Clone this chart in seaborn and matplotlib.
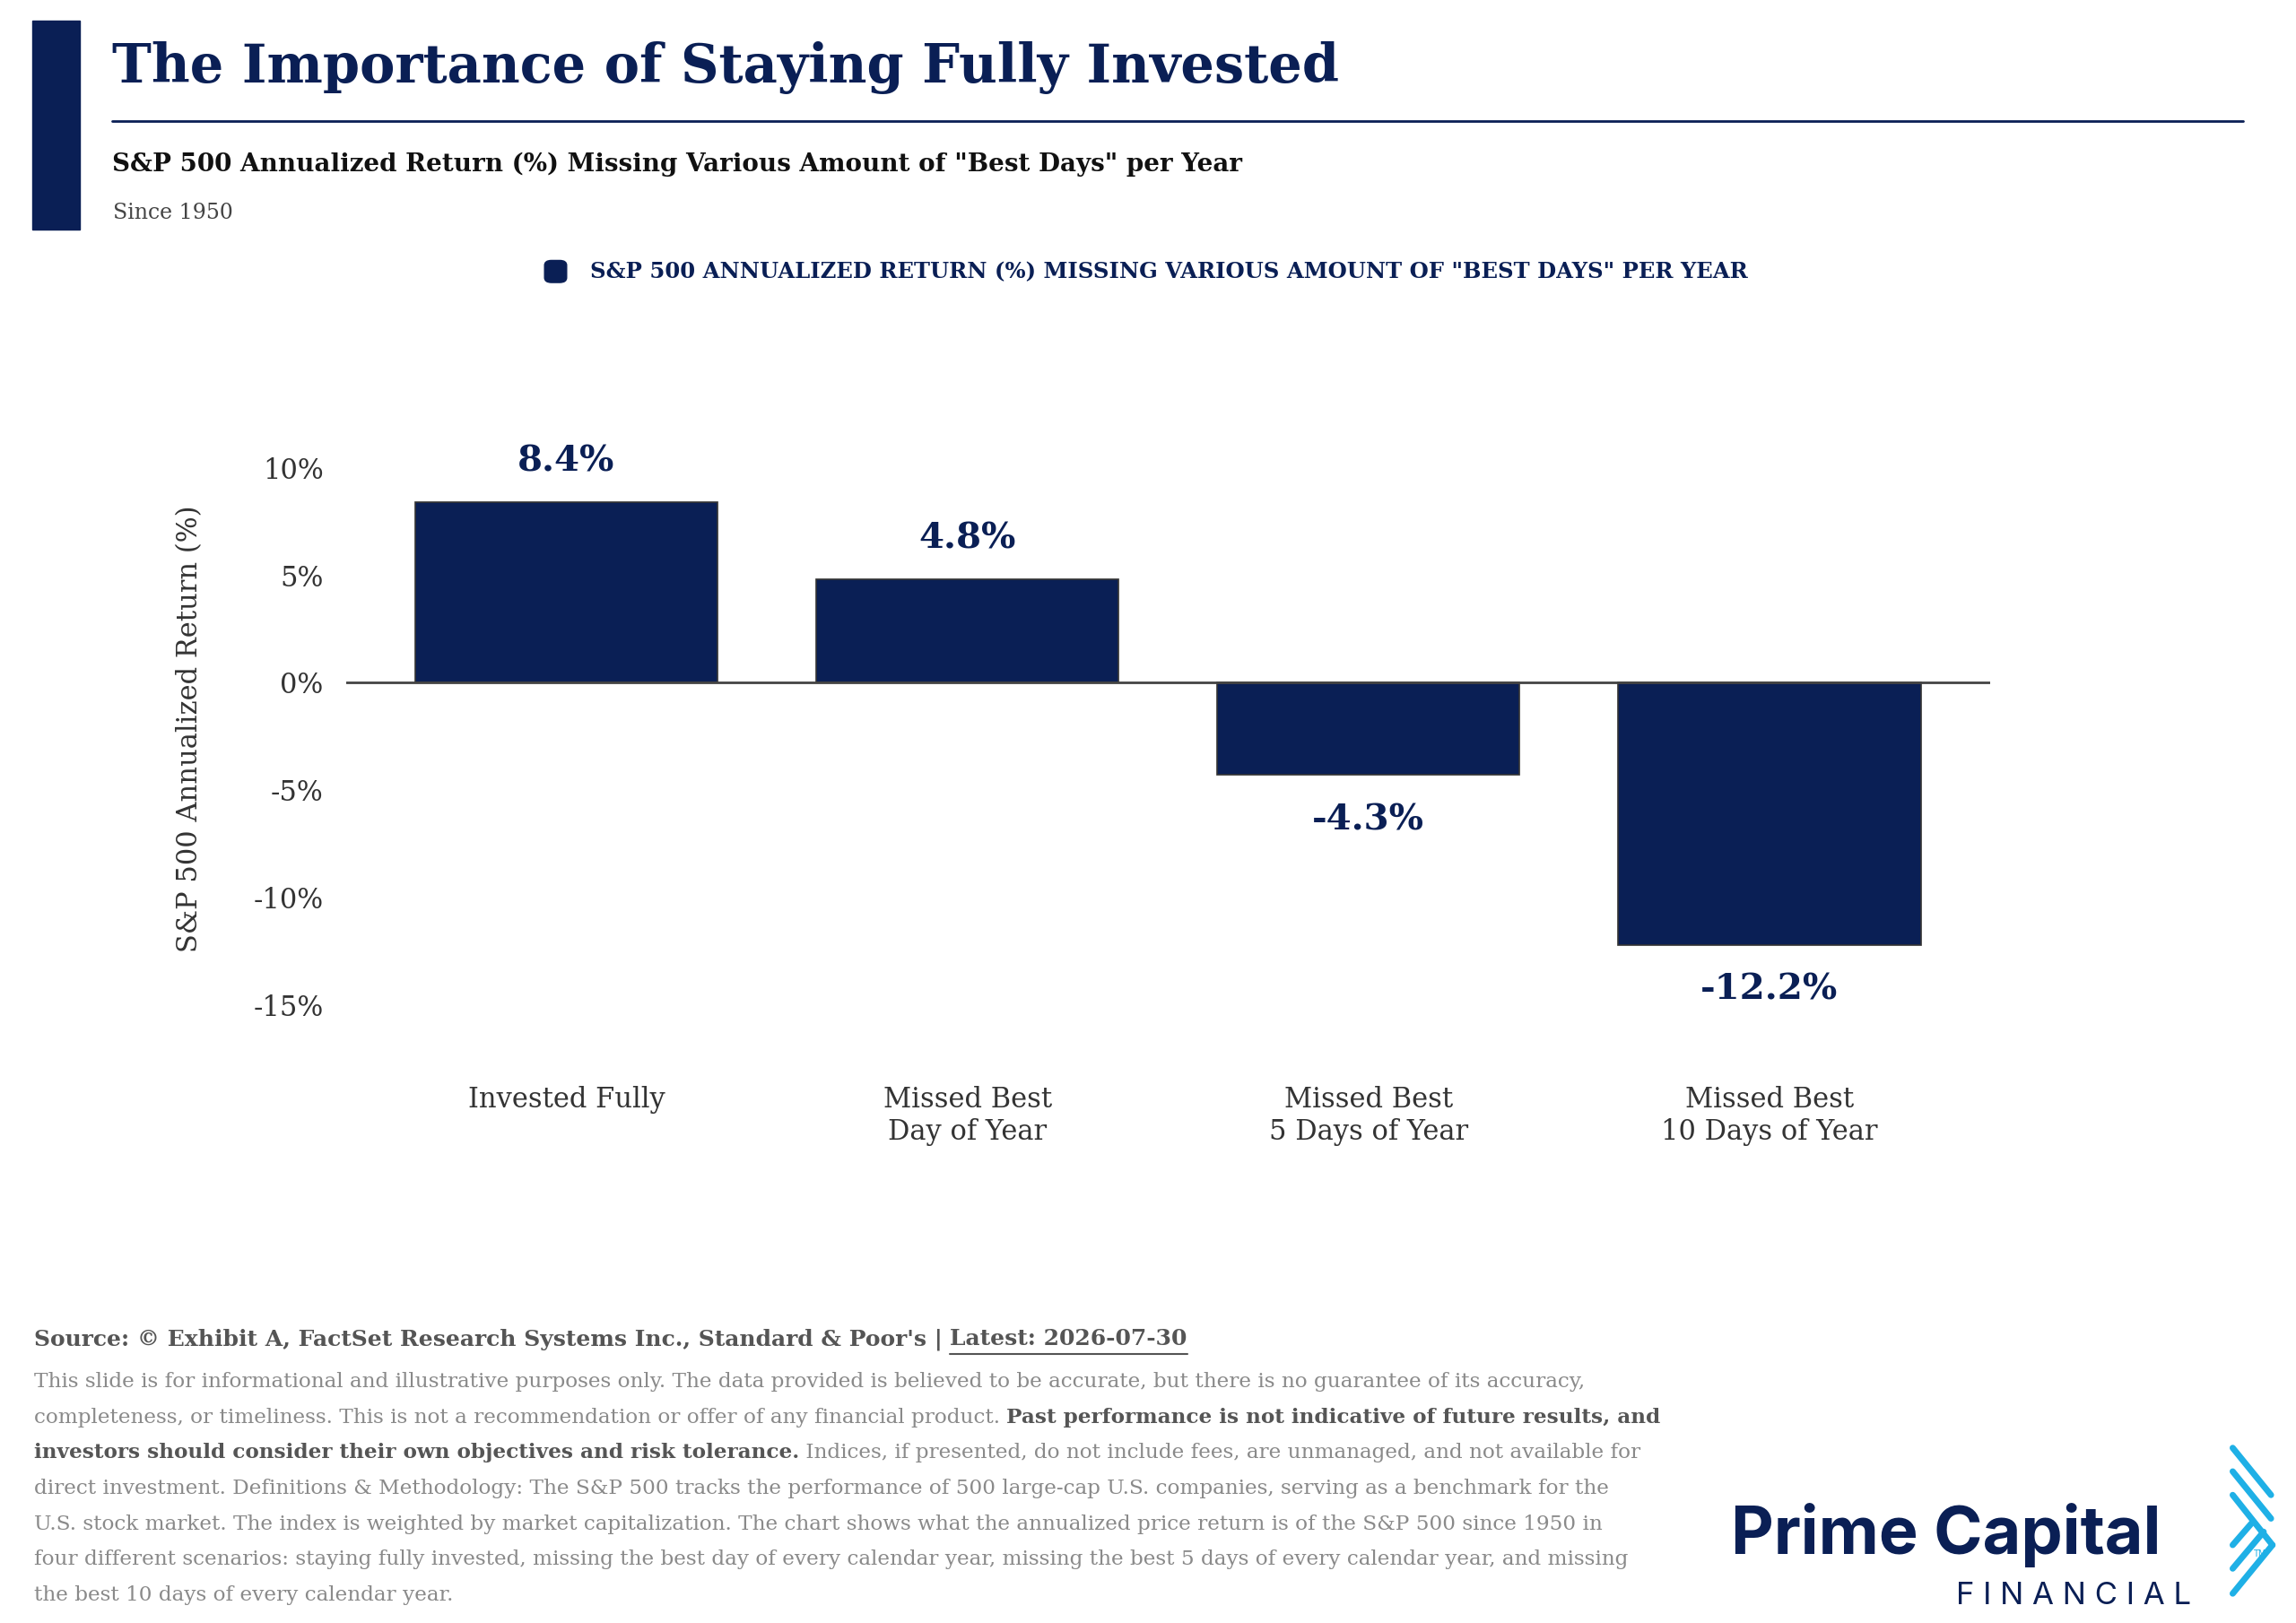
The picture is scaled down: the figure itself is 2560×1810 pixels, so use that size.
import matplotlib
matplotlib.use("Agg")
import matplotlib.pyplot as plt
from matplotlib.patches import Rectangle, FancyBboxPatch
from matplotlib.lines import Line2D
import seaborn as sns

categories = ["Invested Fully", "Missed Best\nDay of Year", "Missed Best\n5 Days of Year", "Missed Best\n10 Days of Year"]
returns = [8.4, 4.8, -4.3, -12.2]
yticks = [10, 5, 0, -5, -10, -15]

NAVY = "#0a1f55"
W, H = 1560, 1103  # layout units (reference display px)

sns.set_theme(style="white")
plt.rcParams["font.family"] = ["DejaVu Serif"]

fig = plt.figure(figsize=(25.6, 18.1), dpi=100)

def fx(x): return x / W
def fy(y): return 1 - y / H

# header
fig.patches.append(Rectangle((fx(22), fy(156)), fx(32), (156 - 14) / H, transform=fig.transFigure, color=NAVY))
fig.text(fx(76), fy(46), "The Importance of Staying Fully Invested", fontsize=42.5, fontweight="bold", color=NAVY, va="center")
fig.add_artist(Line2D([fx(76), fx(1524)], [fy(82), fy(82)], transform=fig.transFigure, color=NAVY, lw=2))
fig.text(fx(76), fy(112), 'S&P 500 Annualized Return (%) Missing Various Amount of "Best Days" per Year',
         fontsize=20, fontweight="bold", color="#111111", va="center")
fig.text(fx(77), fy(145), "Since 1950", fontsize=17, color="#444444", va="center")

# legend
fig.patches.append(FancyBboxPatch((fx(370), fy(192)), fx(15), 15 / H, boxstyle="round,pad=0,rounding_size=0.003",
                                  transform=fig.transFigure, color=NAVY))
fig.text(fx(401), fy(185), 'S&P 500 ANNUALIZED RETURN (%) MISSING VARIOUS AMOUNT OF "BEST DAYS" PER YEAR',
         fontsize=17.5, fontweight="bold", color=NAVY, va="center")

# chart
ax = fig.add_axes([fx(235), fy(710), fx(1117), 430 / H])
sns.barplot(x=categories, y=returns, color=NAVY, saturation=1, width=0.755, ax=ax,
            edgecolor="#333333", linewidth=1.2)
ax.axhline(0, color="#444444", lw=2)
ax.set_xlim(-0.55, 3.55)
ax.set_ylim(-16.85, 12.6)
ax.set_yticks(yticks)
ax.set_yticklabels([f"{v}%" for v in yticks], fontsize=22, color="#333333")
ax.tick_params(axis="x", labelsize=22, colors="#333333", pad=33, length=0)
ax.tick_params(axis="y", length=0, pad=18)
ax.set_ylabel("S&P 500 Annualized Return (%)", fontsize=22, color="#333333", labelpad=40)
ax.set_xlabel("")
for s in ax.spines.values():
    s.set_visible(False)
for i, v in enumerate(returns):
    off = 1.9 if v > 0 else -2.1
    ax.text(i, v + off, f"{v}%", ha="center", va="center", fontsize=29, fontweight="bold", color=NAVY)

# footer
fig.canvas.draw()
r = fig.canvas.get_renderer()
src = fig.text(fx(23), fy(910), "Source: © Exhibit A, FactSet Research Systems Inc., Standard & Poor's | ",
               fontsize=18, fontweight="bold", color="#555555", va="center")
x0 = fx(23) + src.get_window_extent(renderer=r).width / fig.bbox.width
lt = fig.text(x0, fy(910), "Latest: 2026-07-30", fontsize=18, fontweight="bold", color="#555555", va="center")
x1 = x0 + lt.get_window_extent(renderer=r).width / fig.bbox.width
fig.add_artist(Line2D([x0, x1], [fy(920), fy(920)], transform=fig.transFigure, color="#555555", lw=1.5))

lines = [
    [("This slide is for informational and illustrative purposes only. The data provided is believed to be accurate, but there is no guarantee of its accuracy,", False)],
    [("completeness, or timeliness. This is not a recommendation or offer of any financial product. ", False),
     ("Past performance is not indicative of future results, and", True)],
    [("investors should consider their own objectives and risk tolerance.", True),
     (" Indices, if presented, do not include fees, are unmanaged, and not available for", False)],
    [("direct investment. Definitions & Methodology: The S&P 500 tracks the performance of 500 large-cap U.S. companies, serving as a benchmark for the", False)],
    [("U.S. stock market. The index is weighted by market capitalization. The chart shows what the annualized price return is of the S&P 500 since 1950 in", False)],
    [("four different scenarios: staying fully invested, missing the best day of every calendar year, missing the best 5 days of every calendar year, and missing", False)],
    [("the best 10 days of every calendar year.", False)],
]
for k, segs in enumerate(lines):
    x = fx(23)
    y = fy(939 + k * 24.2)
    for txt, bold in segs:
        tt = fig.text(x, y, txt, fontsize=16.7, color="#555555" if bold else "#8a8a8a",
                      fontweight="bold" if bold else "normal", va="center")
        x += tt.get_window_extent(renderer=r).width / fig.bbox.width

# logo
fig.text(fx(1176), fy(1043), "Prime Capital", fontsize=53, fontweight="bold", family=["Inter", "DejaVu Sans"],
         color=NAVY, va="center")
fig.text(fx(1329), fy(1085), "F I N A N C I A L", fontsize=25, family=["Inter", "DejaVu Sans"],
         color=NAVY, va="center")
BLUE = "#1fb0e6"
def seg(x0, y0, x1, y1):
    fig.add_artist(Line2D([fx(x0), fx(x1)], [fy(y0), fy(y1)], transform=fig.transFigure,
                          color=BLUE, lw=5, solid_capstyle="round"))
seg(1517, 984, 1543, 1016)
seg(1517, 1000, 1543, 1032)
seg(1517, 1016, 1544, 1050)
seg(1544, 1050, 1517, 1083)
seg(1517, 1050, 1530, 1035)
seg(1517, 1066, 1538, 1041)
fig.text(fx(1531), fy(1058), "TM", fontsize=7, color=BLUE, family=["DejaVu Sans"])

fig.savefig("out.png", dpi=100)
